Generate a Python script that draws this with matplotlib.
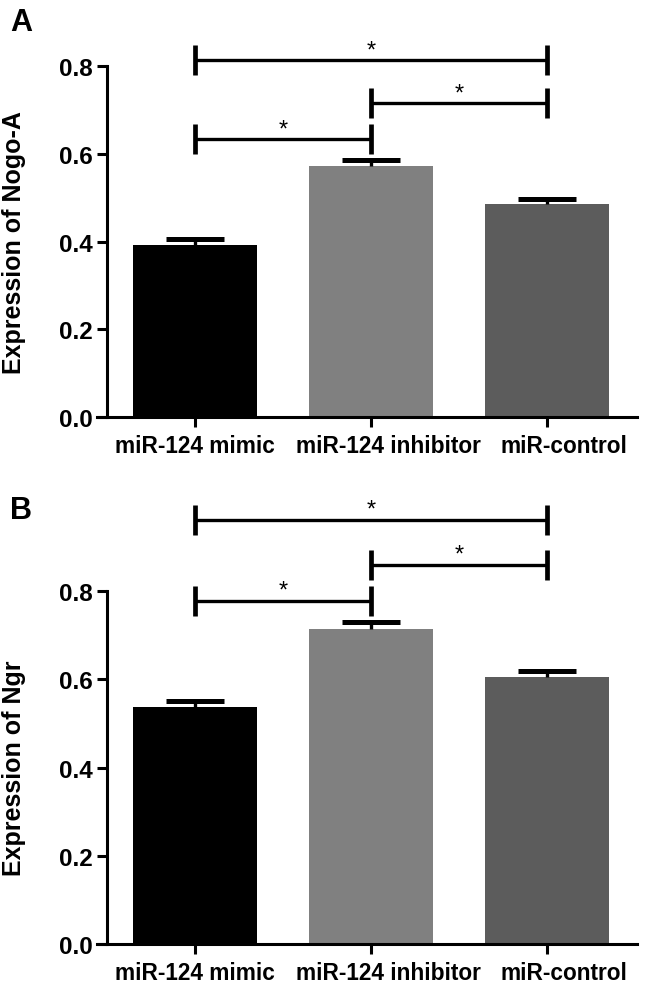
import matplotlib
matplotlib.use('Agg')
import matplotlib.pyplot as plt
import matplotlib.transforms as mtransforms
import numpy as np

plt.rcParams['font.family'] = ['Liberation Sans', 'DejaVu Sans']
plt.rcParams['font.weight'] = 'bold'

# Data
groups = ['miR-124 mimic', 'miR-124 inhibitor', 'miR-control']
bar_colors = ['#000000', '#808080', '#5c5c5c']

nogo_mean = [0.392, 0.572, 0.485]
nogo_sem = [0.013, 0.013, 0.012]
nogo_brackets = [(0, 2, 0.813), (1, 2, 0.715), (0, 1, 0.633)]

ngr_mean = [0.537, 0.714, 0.605]
ngr_sem = [0.013, 0.016, 0.014]
ngr_brackets = [(0, 2, 0.962), (1, 2, 0.860), (0, 1, 0.778)]

W, H = 646, 987
fig = plt.figure(figsize=(W / 100, H / 100), dpi=100)


def panel(rect, means, sems, brackets, ylabel, letter, letter_y):
    ax = fig.add_axes(rect)
    # spine position first (it resets tick settings)
    for s in ['top', 'right']:
        ax.spines[s].set_visible(False)
    ax.spines['left'].set_position(('data', -0.5))
    ax.spines['left'].set_linewidth(2.2)
    ax.spines['bottom'].set_linewidth(2.2)

    x = np.arange(len(groups))
    ax.bar(x, means, width=0.70, color=bar_colors, edgecolor='none', zorder=2)
    # upper error bars only
    eb = ax.errorbar(x, means, yerr=[np.zeros(len(means)), sems], fmt='none',
                     ecolor='black', elinewidth=2.4, capsize=21, capthick=3.6,
                     zorder=3)
    for cl in eb[1]:
        if np.allclose(cl.get_ydata(), means):
            cl.set_visible(False)

    ax.set_xlim(-0.557, 2.511)
    ax.set_ylim(0, 0.8)
    ax.set_yticks([0.0, 0.2, 0.4, 0.6, 0.8])
    ax.set_yticklabels(['0.0', '0.2', '0.4', '0.6', '0.8'])
    ax.set_xticks(x)
    ax.set_xticklabels(groups)
    ax.tick_params(axis='both', direction='out', length=7, width=2.2)
    ax.tick_params(axis='y', pad=3.5, labelsize=17.5)
    ax.tick_params(axis='x', pad=5, labelsize=16.3)

    # the two right-hand labels sit a little right of their ticks
    shift = mtransforms.ScaledTranslation(17 / 100, 0, fig.dpi_scale_trans)
    for lab in ax.get_xticklabels()[1:]:
        lab.set_transform(lab.get_transform() + shift)

    ax.set_ylabel(ylabel, fontsize=18, fontweight='bold')
    ax.yaxis.set_label_coords(-0.131, 0.5)

    # significance brackets
    tick = 0.034
    for a, b, y in brackets:
        ax.plot([a, b], [y, y], color='black', lw=2.4, clip_on=False,
                solid_capstyle='butt')
        for xe in (a, b):
            ax.plot([xe, xe], [y - tick, y + tick], color='black', lw=3.4,
                    clip_on=False, solid_capstyle='butt')
        ax.text((a + b) / 2, y - 0.002, '*', ha='center', va='bottom',
                fontsize=17, fontweight='normal', clip_on=False)

    fig.text(10 / W, letter_y, letter, fontsize=22, fontweight='bold',
             ha='left', va='top')
    return ax


# axes rectangles from pixel positions
left = 97 / W
width = (637 - 97) / W
panel([left, 1 - 418 / H, width, (418 - 67) / H],
      nogo_mean, nogo_sem, nogo_brackets, 'Expression of Nogo-A', 'A',
      1 - 8 / H)
panel([left, 1 - 945 / H, width, (945 - 592) / H],
      ngr_mean, ngr_sem, ngr_brackets, 'Expression of Ngr', 'B',
      1 - 496 / H)

fig.savefig('out.png', dpi=100, facecolor='white')
